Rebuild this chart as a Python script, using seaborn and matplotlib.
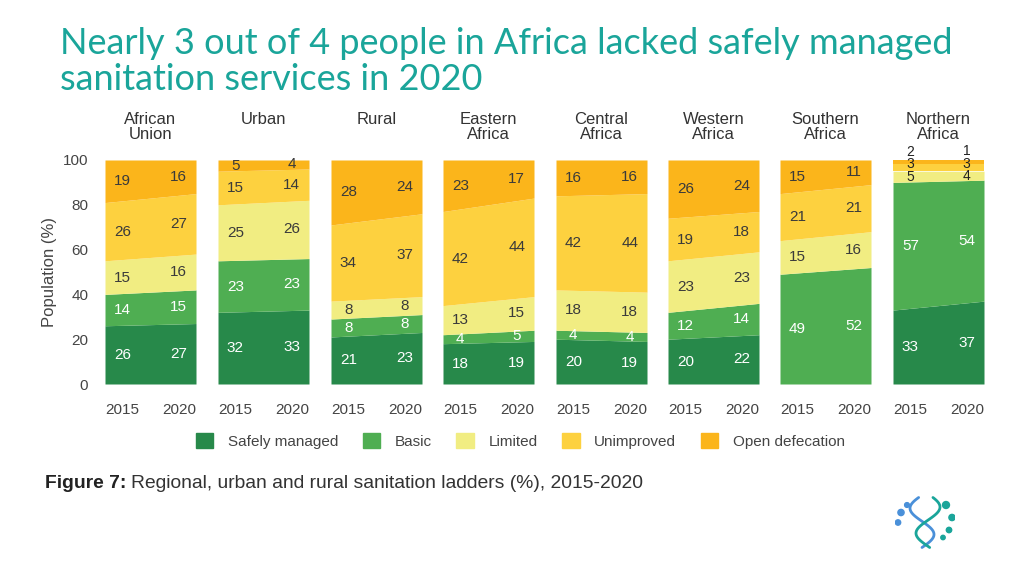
import numpy as np
import seaborn as sns
import matplotlib.pyplot as plt
from matplotlib.patches import Patch

# data: bottom -> top (Safely managed, Basic, Limited, Unimproved, Open defecation)
regions = ["African\nUnion", "Urban", "Rural", "Eastern\nAfrica", "Central\nAfrica",
           "Western\nAfrica", "Southern\nAfrica", "Northern\nAfrica"]
years = [2015, 2020]
categories = ["Safely managed", "Basic", "Limited", "Unimproved", "Open defecation"]
colors = ["#27894a", "#4fae52", "#f1ed82", "#fdd13f", "#fbb51b"]

v2015 = [
    [26, 14, 15, 26, 19],
    [32, 23, 25, 15, 5],
    [21, 8, 8, 34, 28],
    [18, 4, 13, 42, 23],
    [20, 4, 18, 42, 16],
    [20, 12, 23, 19, 26],
    [0, 49, 15, 21, 15],
    [33, 57, 5, 3, 2],
]
v2020 = [
    [27, 15, 16, 27, 16],
    [33, 23, 26, 14, 4],
    [23, 8, 8, 37, 24],
    [19, 5, 15, 44, 17],
    [19, 4, 18, 44, 16],
    [22, 14, 23, 18, 24],
    [0, 52, 16, 21, 11],
    [37, 54, 4, 3, 1],
]

sns.set_theme(style="white")
plt.rcParams['font.family'] = ['Liberation Sans', 'DejaVu Sans']

fig = plt.figure(figsize=(10.24, 5.76), dpi=100)
W, H = 1024, 576
lefts = [105, 218, 331, 443, 556, 668, 780, 893]
pw = 91
bottom, top = 384, 160

for i, name in enumerate(regions):
    ax = fig.add_axes([lefts[i] / W, 1 - bottom / H, pw / W, (bottom - top) / H])
    a = np.array(v2015[i], dtype=float)
    b = np.array(v2020[i], dtype=float)
    ca = np.concatenate([[0], np.cumsum(a)])
    cb = np.concatenate([[0], np.cumsum(b)])
    for k in range(5):
        lo = [ca[k], cb[k]]
        hi = [ca[k + 1], cb[k + 1]] if k < 4 else [100, 100]
        if a[k] == 0 and b[k] == 0:
            continue
        ax.fill_between(years, lo, hi, color=colors[k], lw=0)
        tc = "white" if k < 2 else "#3a3a3a"
        for j, (x, l, h, v) in enumerate([(2015.95, lo[0], hi[0], a[k]),
                                          (2019.05, lo[1], hi[1], b[k])]):
            if v == 0:
                continue
            y = (l + h) / 2
            fs = 11
            if i == 7 and k >= 2:
                # crowded thin bands of Northern Africa
                tc = "#222222"
                fs = 10
                y = {2: [92.6, 92.9][j], 3: [98.0, 98.4][j], 4: [103.6, 104.0][j]}[k]
            ax.text(x, y, f"{int(v)}", ha="center", va="center", fontsize=fs,
                    color=tc, clip_on=False)
    ax.set_xlim(2015, 2020)
    ax.set_ylim(0, 100)
    ax.set_xticks(years)
    ax.set_xticklabels(["2015", "2020"], fontsize=11, color="#444444")
    xt = ax.get_xticklabels()
    xt[0].set_ha("left")
    xt[1].set_ha("right")
    ax.tick_params(axis="x", length=0, pad=14)
    sns.despine(ax=ax, left=True, bottom=True)
    fig.text((lefts[i] + pw / 2) / W, 1 - 112 / H, name, fontsize=12, color="#333333",
             ha="center", va="top", linespacing=1.0)
    if i == 0:
        ax.set_yticks([0, 20, 40, 60, 80, 100])
        ax.set_yticklabels(["0", "20", "40", "60", "80", "100"], fontsize=11, color="#444444")
        ax.tick_params(axis="y", length=0, pad=12)
        ax.set_ylabel("Population (%)", fontsize=12, color="#444444", labelpad=4)
    else:
        ax.set_yticks([])

handles = [Patch(color=c) for c in colors]
fig.legend(handles, categories, loc="center", bbox_to_anchor=(0.508, 1 - 441 / H), ncol=5,
           frameon=False, fontsize=11, handlelength=1.15, handleheight=1.15,
           columnspacing=1.6, handletextpad=0.95, labelcolor="#444444")

fig.text(60 / W, 1 - 27 / H, "Nearly 3 out of 4 people in Africa lacked safely managed\nsanitation services in 2020",
         fontsize=26, color="#1aa59a", va="top", ha="left", fontfamily=['Lato', 'DejaVu Sans'],
         linespacing=1.12)

t1 = fig.text(45 / W, 1 - 483 / H, "Figure 7:", fontsize=13.9, fontweight="bold", color="#222222",
              va="center", ha="left")
fig.canvas.draw()
bb = t1.get_window_extent()
fig.text((bb.x1 + 5) / W, 1 - 483 / H, "Regional, urban and rural sanitation ladders (%), 2015-2020",
         fontsize=13.9, color="#333333", va="center", ha="left")

# small DNA-style logo
lax = fig.add_axes([895 / W, 1 - 550 / H, 60 / W, 55 / H])
tt = np.linspace(0, 1, 60)
lax.plot(0.45 + 0.2 * np.sin(tt * 6), tt, color="#4a90d9", lw=2)
lax.plot(0.55 + 0.2 * np.sin(tt * 6 + 3), tt, color="#1aa59a", lw=2)
lax.scatter([0.1, 0.2, 0.05, 0.85, 0.95, 0.9, 0.8], [0.7, 0.85, 0.5, 0.85, 0.6, 0.35, 0.2],
            s=[20, 12, 15, 25, 20, 15, 10], color=["#4a90d9"] * 3 + ["#1aa59a"] * 4)
lax.set_xlim(0, 1)
lax.set_ylim(-0.05, 1.05)
lax.axis("off")

fig.savefig("out.png", dpi=100)
